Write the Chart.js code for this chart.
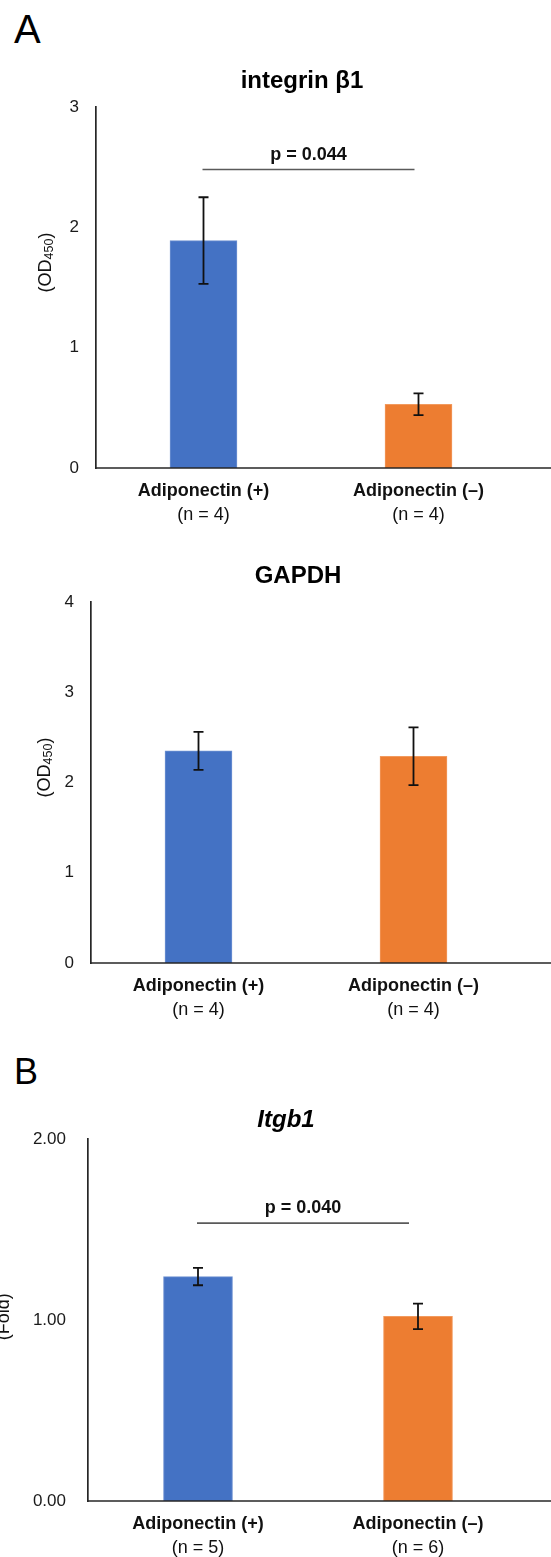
<!DOCTYPE html>
<html>
<head>
<meta charset="utf-8">
<script src="https://cdn.jsdelivr.net/npm/chart.js@4.4.1/dist/chart.umd.min.js"></script>
<style>
html,body{margin:0;padding:0;background:#fff;width:551px;height:1557px;overflow:hidden;position:relative;font-family:"Liberation Sans",Arial,sans-serif}
.panel{position:absolute;color:#000;line-height:1;font-weight:normal}
.wrap{position:absolute;left:0;width:551px}
canvas{display:block}
</style>
</head>
<body>
<div class="panel" style="left:14px;top:9px;font-size:40px">A</div>
<div class="panel" style="left:14px;top:1054px;font-size:36px">B</div>
<div class="wrap" style="top:50px;height:476px"><canvas id="c1"></canvas></div>
<div class="wrap" style="top:540px;height:481px"><canvas id="c2"></canvas></div>
<div class="wrap" style="top:1090px;height:469px"><canvas id="c3"></canvas></div>
<script>
// ---------------- data ----------------
const categories = ['Adiponectin (+)', 'Adiponectin (\u2013)'];

const integrinTitle = 'integrin \u03b21';
const integrinCounts = ['(n = 4)', '(n = 4)'];
const integrinMeans = [1.89, 0.53];
const integrinErrors = [0.36, 0.09];
const integrinTicks = [0, 1, 2, 3];
const integrinPText = 'p = 0.044';
const integrinPLevel = 2.48;

const gapdhTitle = 'GAPDH';
const gapdhCounts = ['(n = 4)', '(n = 4)'];
const gapdhMeans = [2.35, 2.29];
const gapdhErrors = [0.21, 0.32];
const gapdhTicks = [0, 1, 2, 3, 4];

const itgb1Title = 'Itgb1';
const itgb1Counts = ['(n = 5)', '(n = 6)'];
const itgb1Means = [1.24, 1.02];
const itgb1Errors = [0.048, 0.07];
const itgb1Ticks = [0, 1, 2];
const itgb1PText = 'p = 0.040';
const itgb1PLevel = 1.535;

const odTitleParts = ['(OD', '450', ')'];
const foldTitleParts = ['(Fold)'];

// ---------------- styling ----------------
const FAMILY = '"Liberation Sans", Arial, Helvetica, sans-serif';
const BLUE = '#4472C4', ORANGE = '#ED7D31';

function makeChart(id, cfg) {
  const annot = {
    id: 'annot_' + id,
    afterDatasetsDraw(chart) {
      const ctx = chart.ctx, xs = chart.scales.x, ys = chart.scales.y, area = chart.chartArea;
      ctx.save();
      // x axis baseline, running to the right edge
      ctx.strokeStyle = '#262626';
      ctx.lineWidth = 1.7;
      ctx.beginPath();
      ctx.moveTo(area.left - 0.8, area.bottom);
      ctx.lineTo(chart.width, area.bottom);
      ctx.stroke();
      // error bars
      ctx.strokeStyle = '#111';
      ctx.lineWidth = 1.8;
      cfg.means.forEach((m, i) => {
        const cx = xs.getPixelForValue(i);
        const yt = ys.getPixelForValue(m + cfg.errors[i]);
        const yb = ys.getPixelForValue(m - cfg.errors[i]);
        ctx.beginPath();
        ctx.moveTo(cx, yt); ctx.lineTo(cx, yb);
        ctx.moveTo(cx - 5, yt); ctx.lineTo(cx + 5, yt);
        ctx.moveTo(cx - 5, yb); ctx.lineTo(cx + 5, yb);
        ctx.stroke();
      });
      // significance bar
      if (cfg.pText) {
        const x1 = xs.getPixelForValue(0) - 1;
        const x2 = xs.getPixelForValue(1) - cfg.pTrim;
        const yl = ys.getPixelForValue(cfg.pLevel);
        ctx.strokeStyle = '#5a5a5a';
        ctx.lineWidth = 1.6;
        ctx.beginPath(); ctx.moveTo(x1, yl); ctx.lineTo(x2, yl); ctx.stroke();
        ctx.fillStyle = '#111';
        ctx.font = 'bold 18px ' + FAMILY;
        ctx.textAlign = 'center';
        ctx.textBaseline = 'alphabetic';
        ctx.fillText(cfg.pText, (x1 + x2) / 2, yl - 10);
      }
      // chart title
      ctx.fillStyle = '#000';
      ctx.font = (cfg.titleItalic ? 'italic ' : '') + 'bold 24px ' + FAMILY;
      ctx.textAlign = 'center';
      ctx.textBaseline = 'alphabetic';
      ctx.fillText(cfg.title, cfg.titleX, cfg.titleY);
      // y axis title (rotated, with subscript)
      ctx.translate(cfg.yTitleX, cfg.yTitleY);
      ctx.rotate(-Math.PI / 2);
      const parts = cfg.yTitle.map((t, i) => ({
        text: t,
        size: (cfg.yTitle.length === 3 && i === 1) ? 12.5 : 18,
        dy: (cfg.yTitle.length === 3 && i === 1) ? 8.5 : 6.5
      }));
      let total = 0;
      parts.forEach(p => { ctx.font = p.size + 'px ' + FAMILY; p.w = ctx.measureText(p.text).width; total += p.w; });
      let xx = -total / 2;
      ctx.textAlign = 'left';
      ctx.fillStyle = '#111';
      parts.forEach(p => { ctx.font = p.size + 'px ' + FAMILY; ctx.fillText(p.text, xx, p.dy); xx += p.w; });
      ctx.restore();
    }
  };

  return new Chart(document.getElementById(id), {
    type: 'bar',
    data: {
      labels: categories,
      datasets: [{
        data: cfg.means,
        backgroundColor: [BLUE, ORANGE],
        borderColor: ['#6f92d2', '#f29a5e'],
        borderWidth: { top: 1, left: 1, right: 1, bottom: 0 },
        barThickness: cfg.barWidth
      }]
    },
    options: {
      responsive: true,
      maintainAspectRatio: false,
      animation: false,
      events: [],
      layout: { padding: { top: cfg.padTop, right: cfg.padRight, left: 0, bottom: 0 } },
      plugins: { legend: { display: false }, tooltip: { enabled: false }, title: { display: false } },
      scales: {
        x: {
          type: 'category',
          offset: true,
          grid: { display: false, drawTicks: false },
          border: { display: false },
          ticks: { padding: 12, color: '#111', autoSkip: false, maxRotation: 0,
                   font: { family: FAMILY, size: 18, weight: 'bold' } },
          afterFit: s => { s.height = 34; }
        },
        x2: {
          type: 'category',
          position: 'bottom',
          labels: cfg.counts,
          offset: true,
          grid: { display: false, drawTicks: false },
          border: { display: false },
          ticks: { padding: 2, color: '#111', autoSkip: false, maxRotation: 0,
                   font: { family: FAMILY, size: 18 } },
          afterFit: s => { s.height = 24; }
        },
        y: {
          min: 0,
          max: cfg.ticks[cfg.ticks.length - 1],
          afterBuildTicks: s => { s.ticks = cfg.ticks.map(v => ({ value: v })); },
          grid: { display: false, drawTicks: false },
          border: { display: true, color: '#262626', width: 1.7 },
          ticks: { padding: cfg.tickPad, color: '#1a1a1a',
                   font: { family: FAMILY, size: 17 },
                   callback: v => cfg.fmt(v) },
          afterFit: s => { s.width = cfg.left; }
        }
      }
    },
    plugins: [annot]
  });
}

makeChart('c1', {
  means: integrinMeans, errors: integrinErrors, counts: integrinCounts, ticks: integrinTicks,
  title: integrinTitle, titleX: 302, titleY: 37.5, titleItalic: false,
  pText: integrinPText, pLevel: integrinPLevel, pTrim: 4,
  yTitle: odTitleParts, yTitleX: 44, yTitleY: 212.5,
  left: 96, padTop: 57, padRight: 25, tickPad: 17, barWidth: 67,
  fmt: v => String(v)
});

makeChart('c2', {
  means: gapdhMeans, errors: gapdhErrors, counts: gapdhCounts, ticks: gapdhTicks,
  title: gapdhTitle, titleX: 298, titleY: 43.3, titleItalic: false,
  pText: null,
  yTitle: odTitleParts, yTitleX: 43, yTitleY: 227.5,
  left: 91, padTop: 62, padRight: 30, tickPad: 17, barWidth: 67,
  fmt: v => String(v)
});

makeChart('c3', {
  means: itgb1Means, errors: itgb1Errors, counts: itgb1Counts, ticks: itgb1Ticks,
  title: itgb1Title, titleX: 286, titleY: 37.3, titleItalic: true,
  pText: itgb1PText, pLevel: itgb1PLevel, pTrim: 9,
  yTitle: foldTitleParts, yTitleX: 2.5, yTitleY: 226.7,
  left: 88, padTop: 49, padRight: 23, tickPad: 22, barWidth: 69,
  fmt: v => Number(v).toFixed(2)
});
</script>
</body>
</html>
